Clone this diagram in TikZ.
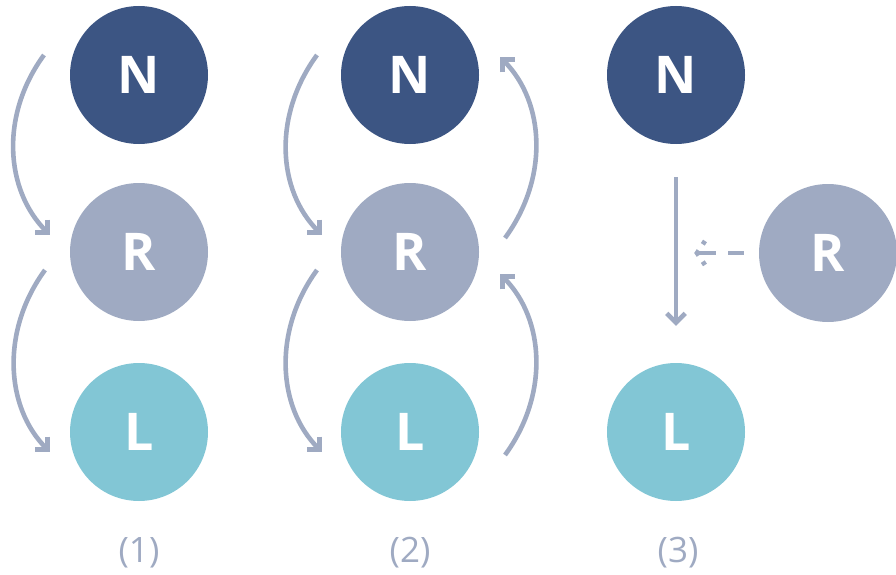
\documentclass[tikz,border=0pt]{standalone}
\usepackage{fontspec}
\setmainfont{Open Sans}
\usetikzlibrary{arrows.meta}
\definecolor{cN}{HTML}{3C5583}
\definecolor{cR}{HTML}{9FAAC2}
\definecolor{cL}{HTML}{82C6D5}
\definecolor{cA}{HTML}{9FAAC2}
\begin{document}
\begin{tikzpicture}[x=1pt,y=-1pt,
  ball/.style={circle,minimum size=138pt,inner sep=0pt,text=white,
    font=\bfseries\fontsize{52}{52}\selectfont},
  nball/.style={ball,fill=cN},
  rball/.style={ball,fill=cR},
  lball/.style={ball,fill=cL},
  flow/.style={draw=cA,line width=4.6pt,-{Straight Barb[angle=90:13pt]}},
  captext/.style={text=cR,font=\fontsize{35}{35}\selectfont}]
\useasboundingbox (0,0) rectangle (896,575);
% column 1
\node[nball] (n1) at (139,75) {N};
\node[rball] (r1) at (139,252) {R};
\node[lball] (l1) at (139,432) {L};
% column 2
\node[nball] (n2) at (410,75) {N};
\node[rball] (r2) at (410,252) {R};
\node[lball] (l2) at (410,432) {L};
% column 3
\node[nball] (n3) at (676,75) {N};
\node[rball] (r3) at (828,253) {R};
\node[lball] (l3) at (676,432) {L};
% captions
\node[captext] (c1) at (139,553) {(1)};
\node[captext] (c2) at (410,553) {(2)};
\node[captext] (c3) at (678,553) {(3)};
% arrows column 1
\draw[flow] ([shift={(-95,-20)}]n1.center) .. controls +(-44,60) and +(-45,-45) .. ([shift={(-89,-17)}]r1.center);
\draw[flow] ([shift={(-94,18)}]r1.center) .. controls +(-44,60) and +(-45,-45) .. ([shift={(-89,20)}]l1.center);
% arrows column 2
\draw[flow] ([shift={(-93,-20)}]n2.center) .. controls +(-44,60) and +(-45,-45) .. ([shift={(-88,-17)}]r2.center);
\draw[flow] ([shift={(-93,18)}]r2.center) .. controls +(-44,60) and +(-45,-45) .. ([shift={(-88,20)}]l2.center);
\draw[flow] ([shift={(95,-14)}]r2.center) .. controls +(44,-60) and +(45,45) .. ([shift={(90,-18)}]n2.center);
\draw[flow] ([shift={(95,23)}]l2.center) .. controls +(44,-60) and +(45,45) .. ([shift={(90,22)}]r2.center);
% column 3
\draw[flow,shorten <=33pt,shorten >=37pt] (n3) -- (l3);
\coordinate (t3) at (697,253);
\draw[draw=cA,line width=4.6pt,dash pattern=on 16pt off 12pt on 30pt,shorten <=15pt] (r3.west) -- (t3);
\draw[draw=cA,line width=4.6pt,dash pattern=on 4pt off 7.4pt on 6pt off 7.4pt] ([shift={(8,-12)}]t3) -- (t3) -- ([shift={(8,12)}]t3);
\end{tikzpicture}
\end{document}
